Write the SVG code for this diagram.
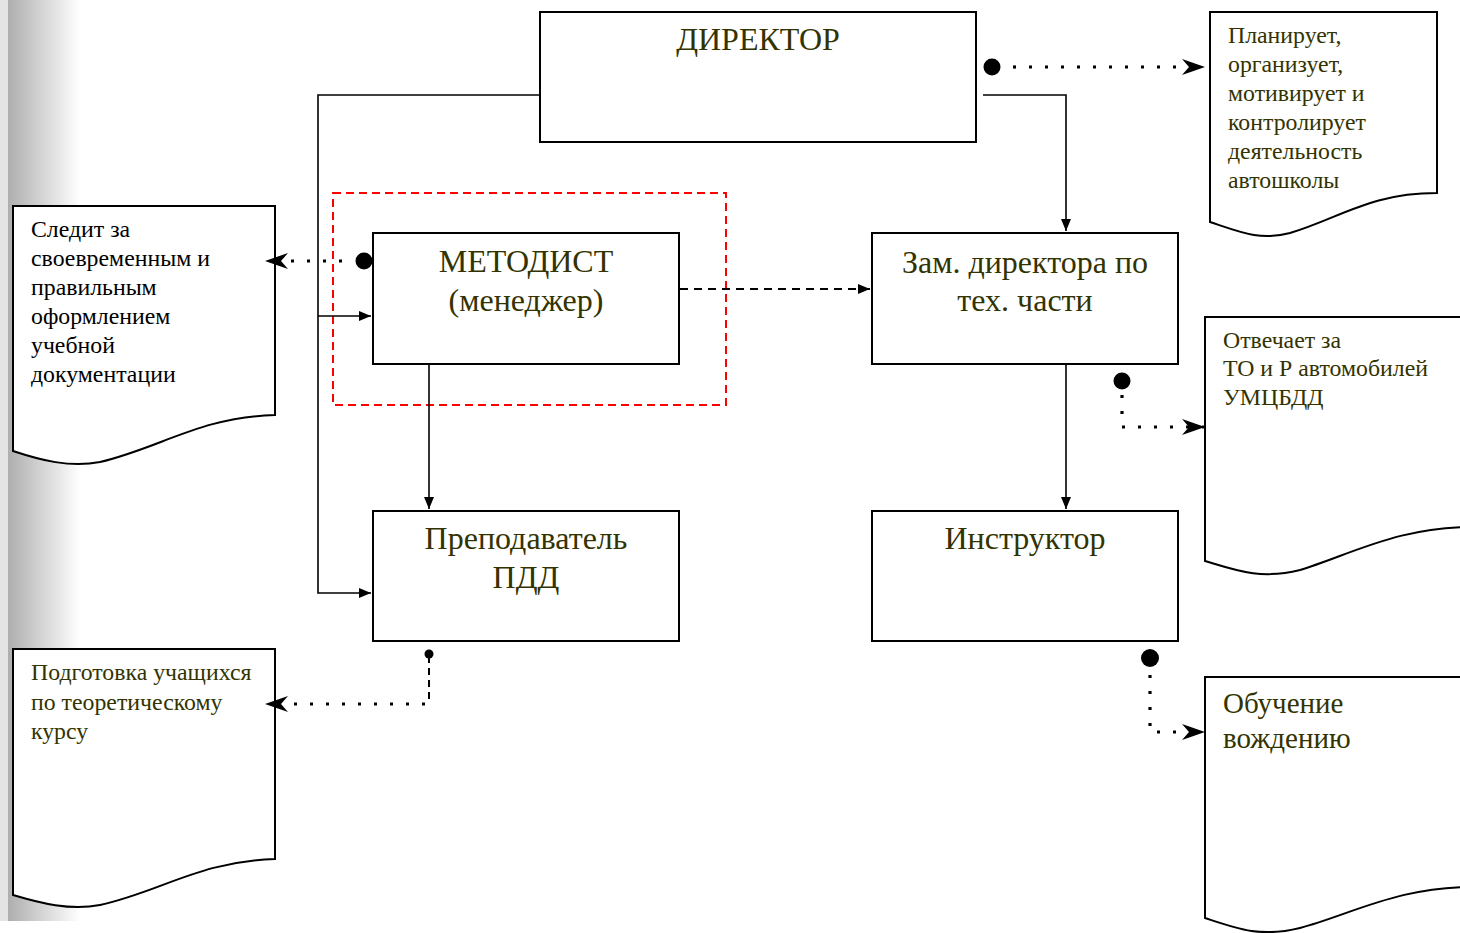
<svg xmlns="http://www.w3.org/2000/svg" width="1460" height="933" viewBox="0 0 1460 933">
<style>
.box{fill:#fff;stroke:#000;stroke-width:2}
.doc{fill:#fff;stroke:#000;stroke-width:2}
.bt{font-family:"Liberation Serif","DejaVu Serif",serif;font-size:32px;fill:#333300;text-anchor:middle}
.dt{font-family:"Liberation Serif","DejaVu Serif",serif;font-size:23.8px;fill:#333300}
.blk{fill:#000}
.solid{fill:none;stroke:#000;stroke-width:1.6}
.dot{fill:none;stroke:#000;stroke-width:3.2;stroke-dasharray:3 13}
</style>
<defs>
<linearGradient id="bg" x1="0" y1="0" x2="1" y2="0">
<stop offset="0" stop-color="#aeaeae"/>
<stop offset="1" stop-color="#ffffff"/>
</linearGradient>
<marker id="tri" markerUnits="userSpaceOnUse" markerWidth="12" markerHeight="10" refX="12" refY="5" orient="auto">
<path d="M0,0 L12,5 L0,10 z" fill="#000"/>
</marker>
<marker id="stealth" markerUnits="userSpaceOnUse" markerWidth="24" markerHeight="16" refX="23" refY="8" orient="auto">
<path d="M0,0 L23,8 L0,16 L7,8 z" fill="#000"/>
</marker>
</defs>
<rect x="0" y="0" width="1460" height="933" fill="#fff"/>
<rect x="0" y="0" width="8" height="921" fill="#e4e4e4"/>
<rect x="8" y="0" width="72" height="921" fill="url(#bg)"/>

<g id="director">
<rect class="box" x="540" y="12" width="436" height="130"/>
<text class="bt" x="758" y="50">ДИРЕКТОР</text>
</g>

<g id="metodist-frame">
<rect x="333" y="193" width="393" height="212" fill="none" stroke="#ff0000" stroke-width="2" stroke-dasharray="8 5"/>
</g>

<g id="metodist">
<rect class="box" x="373" y="233" width="306" height="131"/>
<text class="bt" x="526" y="272">МЕТОДИСТ</text>
<text class="bt" x="526" y="311">(менеджер)</text>
</g>

<g id="zam">
<rect class="box" x="872" y="233" width="306" height="131"/>
<text class="bt" x="1025" y="273">Зам. директора по</text>
<text class="bt" x="1025" y="311">тех. части</text>
</g>

<g id="prepodavatel">
<rect class="box" x="373" y="511" width="306" height="130"/>
<text class="bt" x="526" y="549">Преподаватель</text>
<text class="bt" x="526" y="588">ПДД</text>
</g>

<g id="instruktor">
<rect class="box" x="872" y="511" width="306" height="130"/>
<text class="bt" x="1025" y="549">Инструктор</text>
</g>

<g id="doc-director">
<path class="doc" d="M1210,12 H1437 V193 C1370,193 1340,218 1290,233 C1260,241 1240,232 1210,222 Z"/>
<text class="dt" x="1228" y="43">Планирует,</text>
<text class="dt" x="1228" y="72">организует,</text>
<text class="dt" x="1228" y="101">мотивирует и</text>
<text class="dt" x="1228" y="130">контролирует</text>
<text class="dt" x="1228" y="159">деятельность</text>
<text class="dt" x="1228" y="188">автошколы</text>
</g>

<g id="doc-metodist">
<path class="doc" d="M13,206 H275 V415 C200,417 160,448 100,462 C70,468 40,460 13,451 Z"/>
<text class="dt blk" x="31" y="237">Следит за</text>
<text class="dt blk" x="31" y="266">своевременным и</text>
<text class="dt blk" x="31" y="295">правильным</text>
<text class="dt blk" x="31" y="324">оформлением</text>
<text class="dt blk" x="31" y="353">учебной</text>
<text class="dt blk" x="31" y="382">документации</text>
</g>

<g id="doc-prepodavatel">
<path class="doc" d="M13,649 H275 V859 C200,861 160,892 100,905 C70,911 40,903 13,895 Z"/>
<text class="dt" x="31" y="680">Подготовка учащихся</text>
<text class="dt" x="31" y="710">по теоретическому</text>
<text class="dt" x="31" y="739">курсу</text>
</g>

<g id="doc-zam">
<path class="doc" d="M1205,317 H1480 V527 C1400,525 1350,555 1300,570 C1260,580 1235,570 1205,561 Z"/>
<text class="dt" x="1223" y="348">Отвечает за</text>
<text class="dt" x="1223" y="376">ТО и Р автомобилей</text>
<text class="dt" x="1223" y="405">УМЦБДД</text>
</g>

<g id="doc-instruktor">
<path class="doc" d="M1205,677 H1480 V887 C1400,885 1350,915 1300,928 C1260,938 1235,928 1205,918 Z"/>
<text class="dt" x="1223" y="713" style="font-size:29px">Обучение</text>
<text class="dt" x="1223" y="748" style="font-size:29px">вождению</text>
</g>

<g id="connectors">
<path class="solid" d="M540,95 H318 V593 H371" marker-end="url(#tri)"/>
<path class="solid" d="M318,316 H371" marker-end="url(#tri)"/>
<path class="solid" d="M983,95 H1066 V231" marker-end="url(#tri)"/>
<path class="solid" d="M429,365 V509" marker-end="url(#tri)"/>
<path class="solid" d="M1066,365 V509" marker-end="url(#tri)"/>
<path fill="none" stroke="#000" stroke-width="2" stroke-dasharray="8 6" d="M680,289 H870" marker-end="url(#tri)"/>
<circle cx="992" cy="67" r="8.5" fill="#000"/>
<path class="dot" d="M1013,67 H1205" marker-end="url(#stealth)"/>
<circle cx="364" cy="261" r="8.5" fill="#000"/>
<path class="dot" d="M342,261 H265" marker-end="url(#stealth)"/>
<circle cx="1122" cy="381" r="8.5" fill="#000"/>
<path class="dot" d="M1122,395 V427 H1205" marker-end="url(#stealth)"/>
<circle cx="429" cy="654" r="4.5" fill="#000"/>
<path fill="none" stroke="#000" stroke-width="2" stroke-dasharray="7 5" d="M429,656 V704"/>
<path class="dot" d="M425,704 H265" marker-end="url(#stealth)"/>
<circle cx="1150" cy="658" r="9" fill="#000"/>
<path class="dot" d="M1150,675 V732 H1205" marker-end="url(#stealth)"/>
</g>
</svg>
